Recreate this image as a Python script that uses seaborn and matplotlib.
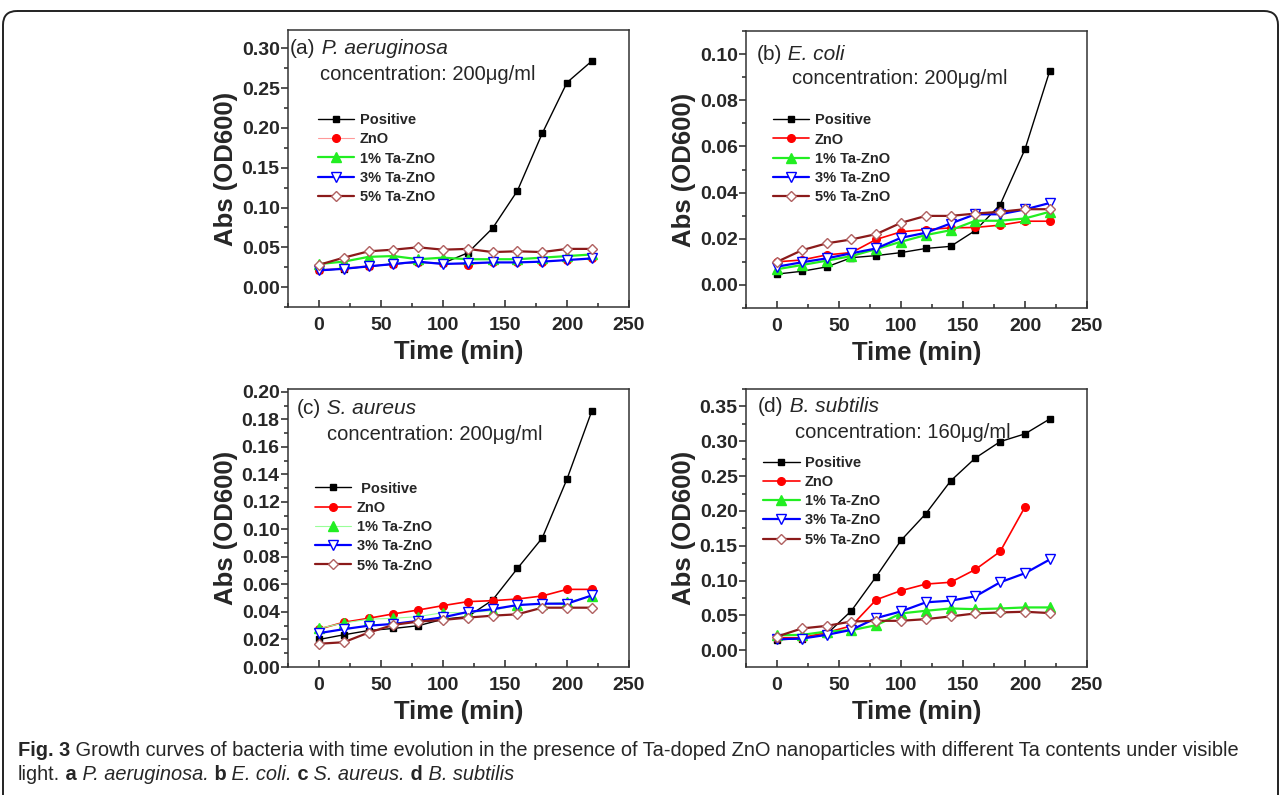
import numpy as np
import pandas as pd
import seaborn as sns
import matplotlib.pyplot as plt
from matplotlib import font_manager
from matplotlib.ticker import MultipleLocator, FormatStrFormatter
from matplotlib.patches import FancyBboxPatch

W, H = 1281, 795

# --- data ---
time = [0, 20, 40, 60, 80, 100, 120, 140, 160, 180, 200, 220]

a_positive = [0.021, 0.023, 0.026, 0.029, 0.031, 0.030, 0.043, 0.074, 0.121, 0.193, 0.257, 0.284]
a_zno = [0.022, 0.024, 0.027, 0.029, 0.031, 0.030, 0.028, 0.031, 0.031, 0.032, 0.034, 0.036]
a_ta1 = [0.029, 0.032, 0.038, 0.039, 0.035, 0.037, 0.035, 0.035, 0.035, 0.037, 0.039, 0.041]
a_ta3 = [0.021, 0.023, 0.026, 0.029, 0.032, 0.029, 0.030, 0.031, 0.031, 0.032, 0.034, 0.036]
a_ta5 = [0.028, 0.037, 0.045, 0.047, 0.050, 0.047, 0.048, 0.044, 0.045, 0.044, 0.048, 0.048]

b_positive = [0.0047, 0.0059, 0.0078, 0.0118, 0.0127, 0.0140, 0.0158, 0.0167, 0.0236, 0.0348, 0.0588, 0.0928]
b_zno = [0.0100, 0.0108, 0.0130, 0.0140, 0.0197, 0.0230, 0.0240, 0.0247, 0.0249, 0.0259, 0.0276, 0.0276]
b_ta1 = [0.0068, 0.0086, 0.0105, 0.0125, 0.0155, 0.0187, 0.0216, 0.0237, 0.0278, 0.0278, 0.0288, 0.0317]
b_ta3 = [0.0079, 0.0098, 0.0115, 0.0137, 0.0158, 0.0204, 0.0226, 0.0266, 0.0306, 0.0306, 0.0327, 0.0355]
b_ta5 = [0.0100, 0.0150, 0.0180, 0.0197, 0.0220, 0.0269, 0.0299, 0.0299, 0.0309, 0.0317, 0.0328, 0.0328]

c_positive = [0.0200, 0.0234, 0.0265, 0.0280, 0.0300, 0.0347, 0.0366, 0.0487, 0.0716, 0.0937, 0.1366, 0.1860]
c_zno = [0.0275, 0.0325, 0.0354, 0.0386, 0.0414, 0.0446, 0.0475, 0.0482, 0.0494, 0.0516, 0.0564, 0.0564]
c_ta1 = [0.0280, 0.0320, 0.0347, 0.0354, 0.0366, 0.0395, 0.0395, 0.0410, 0.0450, 0.0460, 0.0470, 0.0518]
c_ta3 = [0.0246, 0.0275, 0.0300, 0.0313, 0.0335, 0.0361, 0.0400, 0.0420, 0.0450, 0.0460, 0.0460, 0.0520]
c_ta5 = [0.0169, 0.0180, 0.0250, 0.0306, 0.0330, 0.0342, 0.0359, 0.0373, 0.0383, 0.0431, 0.0431, 0.0431]

d_positive = [0.0149, 0.0168, 0.0230, 0.0567, 0.1058, 0.1577, 0.1960, 0.2430, 0.2760, 0.2995, 0.3106, 0.3320]
d_zno = [0.0180, 0.0180, 0.0255, 0.0350, 0.0726, 0.0856, 0.0950, 0.0976, 0.1160, 0.1418, 0.2058]
d_ta1 = [0.0216, 0.0221, 0.0269, 0.0288, 0.0360, 0.0529, 0.0567, 0.0600, 0.0590, 0.0600, 0.0615, 0.0615]
d_ta3 = [0.0159, 0.0168, 0.0221, 0.0293, 0.0462, 0.0558, 0.0688, 0.0712, 0.0774, 0.0976, 0.1106, 0.1303]
d_ta5 = [0.0197, 0.0313, 0.0350, 0.0413, 0.0423, 0.0423, 0.0447, 0.0486, 0.0529, 0.0543, 0.0553, 0.0534]

labels = ['Positive', 'ZnO', '1% Ta-ZnO', '3% Ta-ZnO', '5% Ta-ZnO']

# --- styles ---
sns.set_style('ticks')
plt.rcParams['font.family'] = ['Liberation Sans', 'DejaVu Sans']
plt.rcParams['axes.edgecolor'] = '#333333'

styles = [
    dict(color='black', marker='s', ms=4.5, mfc='black', mec='black', lw=1.0),
    dict(color='#ff0000', marker='o', ms=5.5, mfc='#ff0000', mec='#ff0000', lw=1.2),
    dict(color='#22ee22', marker='^', ms=6.5, mfc='#22ee22', mec='#22ee22', lw=1.6),
    dict(color='#0000ff', marker='v', ms=6.5, mfc='white', mec='#0000ff', lw=1.6),
    dict(color='#8b1a1a', marker='D', ms=5.0, mfc='white', mec='#b06060', lw=1.6),
]

panels = [
    dict(rect=(288, 30, 629, 307), series=[a_positive, a_zno, a_ta1, a_ta3, a_ta5],
         ylim=(-0.025, 0.323), major=0.05, tag='(a)', name='P. aeruginosa',
         conc='concentration: 200μg/ml', tag_xy=(290, 48), conc_xy=(320, 74),
         leg=(0.088, 0.70), first='Positive',
         tweak={1: dict(color='#ff9999', lw=0.8)}),
    dict(rect=(746, 31, 1087, 308), series=[b_positive, b_zno, b_ta1, b_ta3, b_ta5],
         ylim=(-0.01, 0.11), major=0.02, tag='(b)', name='E. coli',
         conc='concentration: 200μg/ml', tag_xy=(757, 54), conc_xy=(792, 79),
         leg=(0.079, 0.703), first='Positive', tweak={}),
    dict(rect=(288, 389, 629, 667), series=[c_positive, c_zno, c_ta1, c_ta3, c_ta5],
         ylim=(0.0, 0.202), major=0.02, tag='(c)', name='S. aureus',
         conc='concentration: 200μg/ml', tag_xy=(297, 408), conc_xy=(327, 435),
         leg=(0.079, 0.667), first=' Positive',
         tweak={2: dict(color='#99ff99', lw=0.8)}),
    dict(rect=(746, 389, 1087, 667), series=[d_positive, d_zno, d_ta1, d_ta3, d_ta5],
         ylim=(-0.024, 0.375), major=0.05, tag='(d)', name='B. subtilis',
         conc='concentration: 160μg/ml', tag_xy=(758, 406), conc_xy=(795, 433),
         leg=(0.05, 0.76), first='Positive', tweak={}),
]

fig = plt.figure(figsize=(W / 100, H / 100), dpi=100)
renderer = fig.canvas.get_renderer()


def put_runs(runs, x, y, size, family):
    # place text pieces one after another on a line (pixel coords)
    for txt, weight, style in runs:
        t = fig.text(x / W, 1 - y / H, txt, fontsize=size, fontweight=weight,
                     fontstyle=style, family=family, ha='left', va='center')
        x += t.get_window_extent(renderer).width


for p in panels:
    l, t, r, b = p['rect']
    ax = fig.add_axes([l / W, 1 - b / H, (r - l) / W, (b - t) / H])
    for i, (vals, st) in enumerate(zip(p['series'], styles)):
        st = {**st, **p['tweak'].get(i, {})}
        lab = p['first'] if i == 0 else labels[i]
        sns.lineplot(x=time[:len(vals)], y=vals, ax=ax, label=lab, color=st['color'],
                     marker=st['marker'], markersize=st['ms'], markerfacecolor=st['mfc'],
                     markeredgecolor=st['mec'], markeredgewidth=1.0, linewidth=st['lw'])
    ax.set_xlim(-25, 250)
    ax.set_ylim(*p['ylim'])
    ax.xaxis.set_major_locator(MultipleLocator(50))
    ax.xaxis.set_minor_locator(MultipleLocator(25))
    ax.yaxis.set_major_locator(MultipleLocator(p['major']))
    ax.yaxis.set_minor_locator(MultipleLocator(p['major'] / 2))
    ax.yaxis.set_major_formatter(FormatStrFormatter('%.2f'))
    ax.xaxis.set_major_formatter(FormatStrFormatter('%d'))
    ax.tick_params(axis='x', which='both', direction='in', width=1.1, pad=7, labelsize=14)
    ax.tick_params(axis='y', which='both', direction='out', width=1.1, pad=1, labelsize=14)
    ax.tick_params(which='major', length=5)
    ax.tick_params(which='minor', length=3)
    for lb in ax.get_xticklabels() + ax.get_yticklabels():
        lb.set_fontweight('bold')
    for s in ax.spines.values():
        s.set_visible(True)
        s.set_linewidth(1.1)
    ax.set_xlabel('Time (min)', fontsize=18.5, fontweight='bold', va='center')
    ax.set_ylabel('Abs (OD600)', fontsize=18.5, fontweight='bold', va='center')
    ax.xaxis.set_label_coords(0.5, -45 / (b - t))
    ax.yaxis.set_label_coords(-62 / (r - l), 0.5)
    ax.legend(loc='upper left', bbox_to_anchor=p['leg'], frameon=False,
              prop=dict(weight='bold', size=10.5), handlelength=2.5,
              handletextpad=0.35, labelspacing=0.36, borderpad=0, borderaxespad=0)
    tx, ty = p['tag_xy']
    put_runs([(p['tag'], 'normal', 'normal'), (' ' + p['name'], 'normal', 'italic')],
             tx, ty, 15, ['Liberation Sans', 'DejaVu Sans'])
    cx, cy = p['conc_xy']
    fig.text(cx / W, 1 - cy / H, p['conc'], fontsize=14.5, ha='left', va='center')

# --- frame around the figure and caption ---
bg = fig.add_axes([0, 0, 1, 1], zorder=-1)
bg.set_xlim(0, W)
bg.set_ylim(H, 0)
bg.axis('off')
bg.add_patch(FancyBboxPatch((3, 11), W - 6, 900, boxstyle='round,pad=0,rounding_size=14',
                            fill=False, edgecolor='#222222', linewidth=1.4))

names = {f.name for f in font_manager.fontManager.ttflist}
cap_family = 'Liberation Sans Narrow' if 'Liberation Sans Narrow' in names else 'Liberation Sans'
cap_size = 14.4
put_runs([('Fig. 3', 'bold', 'normal'),
          (' Growth curves of bacteria with time evolution in the presence of Ta-doped ZnO '
           'nanoparticles with different Ta contents under visible', 'normal', 'normal')],
         18, 751, cap_size, cap_family)
put_runs([('light.', 'normal', 'normal'), (' a', 'bold', 'normal'),
          (' P. aeruginosa.', 'normal', 'italic'), (' b', 'bold', 'normal'),
          (' E. coli.', 'normal', 'italic'), (' c', 'bold', 'normal'),
          (' S. aureus.', 'normal', 'italic'), (' d', 'bold', 'normal'),
          (' B. subtilis', 'normal', 'italic')],
         18, 774, cap_size, cap_family)

fig.savefig('out.png', dpi=100)
